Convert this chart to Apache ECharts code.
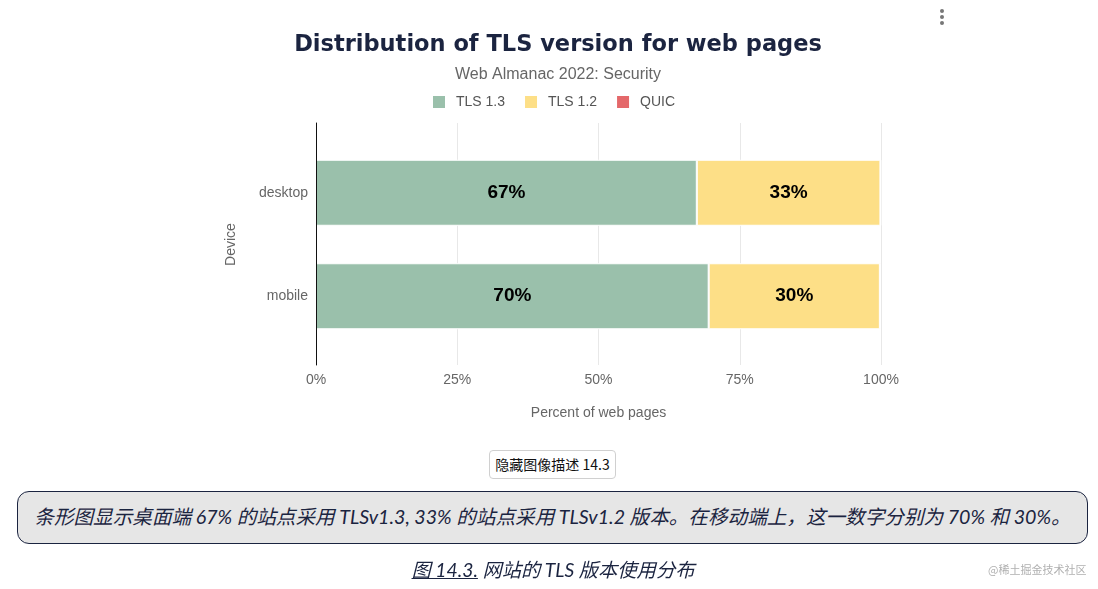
<!DOCTYPE html>
<html>
<head>
<meta charset="utf-8">
<script src="https://cdn.jsdelivr.net/npm/echarts@6/dist/echarts.min.js"></script>
<style>
html,body{margin:0;padding:0;background:#fff;width:1098px;height:589px;overflow:hidden;}
#chart{position:absolute;left:0;top:0;width:1098px;height:589px;}
.btn{position:absolute;left:489px;top:450px;width:127px;height:29px;border:1px solid #d0d0d0;border-radius:4px;background:#fff;
 font-family:"Noto Sans CJK SC","Liberation Sans",sans-serif;font-size:14px;line-height:27px;text-align:center;color:#111;box-sizing:border-box;}
.desc{position:absolute;left:17px;top:491px;width:1071px;height:53px;box-sizing:border-box;border:1.5px solid #1b2440;border-radius:12px;background:#e6e6e6;
 font-family:Lato,"Noto Sans CJK SC",sans-serif;font-style:italic;font-size:19.6px;line-height:50px;text-align:center;color:#1b2440;white-space:nowrap;}
.cap{position:absolute;left:0;top:555px;width:1106px;text-align:center;font-family:Lato,"Noto Sans CJK SC",sans-serif;font-style:italic;font-size:19.3px;color:#1b2440;white-space:nowrap;}
.cap u{text-decoration:underline;}
.wm{position:absolute;left:988px;top:561px;font-family:"Noto Sans CJK SC",sans-serif;font-size:11px;color:#b0b0b0;}
</style>
</head>
<body>
<div id="chart"></div>
<div class="btn">隐藏图像描述 14.3</div>
<div class="desc">条形图显示桌面端 67% 的站点采用 TLSv1.3, 33% 的站点采用 TLSv1.2 版本。在移动端上，这一数字分别为 70% 和 30%。</div>
<div class="cap"><u>图 14.3.</u> 网站的 TLS 版本使用分布</div>
<div class="wm">@稀土掘金技术社区</div>
<script>
const devices = ['desktop', 'mobile'];
const tls13 = [67.4, 69.5];
const tls12 = [32.5, 30.3];
const quic = [0.1, 0.2];
const xTicks = [0, 25, 50, 75, 100];

const chart = echarts.init(document.getElementById('chart'), null, {renderer: 'canvas'});
const font = '"Liberation Sans", Arial, sans-serif';
const lbl = {
  show: true,
  position: 'inside',
  color: '#000',
  fontFamily: font,
  fontWeight: 'bold',
  fontSize: 19,
  formatter: p => Math.round(p.value) + '%'
};
chart.setOption({
  animation: false,
  textStyle: {fontFamily: font},
  title: [{
    text: 'Distribution of TLS version for web pages',
    left: 553, top: 29, textAlign: 'center',
    textStyle: {fontFamily: '"DejaVu Sans", sans-serif', fontWeight: 'bold', fontSize: 22.5, color: '#1b2440'}
  }, {
    text: 'Web Almanac 2022: Security',
    left: 553, top: 62, textAlign: 'center',
    textStyle: {fontFamily: font, fontWeight: 'normal', fontSize: 16, color: '#666'}
  }],
  legend: {
    top: 89, left: 426,
    icon: 'rect', itemWidth: 14, itemHeight: 14, itemGap: 18,
    textStyle: {fontFamily: font, fontSize: 14, color: '#555', padding: [0, 0, 0, 5]},
    data: ['TLS 1.3', 'TLS 1.2', 'QUIC']
  },
  grid: [
    {left: 316, right: 217, top: 123, height: 242},
    {left: 316, right: 217, top: 141, height: 207}
  ],
  xAxis: [{
    gridIndex: 0, type: 'value', min: 0, max: 100, interval: 25,
    axisLine: {show: false}, axisTick: {show: false},
    splitLine: {show: true, lineStyle: {color: '#e8e8e8', width: 1}},
    axisLabel: {color: '#666', fontSize: 14, margin: 8, formatter: v => xTicks.includes(v) ? v + '%' : ''},
    name: 'Percent of web pages', nameLocation: 'middle', nameGap: 41,
    nameTextStyle: {color: '#666', fontSize: 14}
  }, {
    gridIndex: 1, type: 'value', min: 0, max: 100, show: false
  }],
  yAxis: [{
    gridIndex: 0, type: 'value', min: 0, max: 1, z: 20,
    axisLine: {show: true, lineStyle: {color: '#111', width: 1}},
    axisTick: {show: false}, axisLabel: {show: false}, splitLine: {show: false}
  }, {
    gridIndex: 1, type: 'category', data: devices, inverse: true,
    axisLine: {show: false}, axisTick: {show: false},
    axisLabel: {color: '#666', fontSize: 14, margin: 8},
    name: 'Device', nameLocation: 'middle', nameGap: 78, nameRotate: 90,
    nameTextStyle: {color: '#666', fontSize: 14}
  }],
  series: [{
    name: 'TLS 1.3', type: 'bar', stack: 'total', xAxisIndex: 1, yAxisIndex: 1,
    data: tls13, barWidth: 66,
    itemStyle: {color: '#9ac0ab', borderColor: '#fff', borderWidth: 1},
    label: lbl
  }, {
    name: 'TLS 1.2', type: 'bar', stack: 'total', xAxisIndex: 1, yAxisIndex: 1,
    data: tls12, barWidth: 66,
    itemStyle: {color: '#fddf87', borderColor: '#fff', borderWidth: 1},
    label: lbl
  }, {
    name: 'QUIC', type: 'bar', stack: 'total', xAxisIndex: 1, yAxisIndex: 1,
    data: quic, barWidth: 66,
    itemStyle: {color: '#e4686a', borderColor: '#fff', borderWidth: 1},
    label: {show: false}
  }],
  graphic: [
    {type: 'circle', shape: {cx: 942, cy: 11, r: 2}, style: {fill: '#777'}},
    {type: 'circle', shape: {cx: 942, cy: 17, r: 2}, style: {fill: '#777'}},
    {type: 'circle', shape: {cx: 942, cy: 23, r: 2}, style: {fill: '#777'}}
  ]
});
</script>
</body>
</html>
